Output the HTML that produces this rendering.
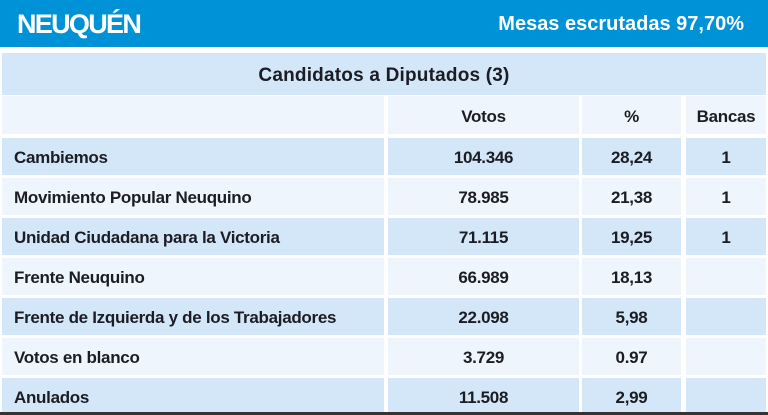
<!DOCTYPE html><html><head><meta charset="utf-8"><style>
*{margin:0;padding:0;box-sizing:border-box}
body{width:768px;height:415px;background:#fff;position:relative;overflow:hidden;font-family:"Liberation Sans",sans-serif;font-weight:bold;color:#1c1c24}
.hd{position:absolute;left:0;top:0;width:768px;height:47px;background:#0092d6;color:#fff}
.hd .l{position:absolute;left:17px;top:9px;font-size:27px;letter-spacing:-1.7px}
.hd .r{position:absolute;right:24px;top:13px;font-size:20px}
.c{position:absolute;font-size:17px;letter-spacing:-0.3px;display:flex;align-items:center;padding-top:3px}
.b{background:#d3e7f8}.p{background:#eef5fc}
</style></head><body>
<div class="hd"><span class="l">NEUQUÉN</span><span class="r">Mesas escrutadas 97,70%</span></div>
<div class="c b" style="left:2px;top:53px;width:764px;height:42px;justify-content:center;font-size:19px;letter-spacing:0.2px">Candidatos a Diputados (3)</div>
<div id="t"></div>
<script>
var rows=[["","Votos","%","Bancas"],["Cambiemos","104.346","28,24","1"],["Movimiento Popular Neuquino","78.985","21,38","1"],["Unidad Ciudadana para la Victoria","71.115","19,25","1"],["Frente Neuquino","66.989","18,13",""],["Frente de Izquierda y de los Trabajadores","22.098","5,98",""],["Votos en blanco","3.729","0.97",""],["Anulados","11.508","2,99",""]];
var cols=[[2,382],[388,191],[582,99],[686,80]];var h="";
rows.forEach(function(r,i){var top=i==0?96:138+(i-1)*40;var ht=i==0?38:37;var cl=(i%2==1)?"b":"p";
r.forEach(function(t,j){var c=cols[j];h+='<div class="c '+cl+'" style="left:'+c[0]+'px;top:'+top+'px;width:'+c[1]+'px;height:'+ht+'px;'+(j==0?'padding-left:12px':'justify-content:center')+'">'+t+'</div>';});});
document.getElementById("t").innerHTML=h;
</script>
<div style="position:absolute;left:0;top:412px;width:768px;height:3px;background:#333"></div>
</body></html>
